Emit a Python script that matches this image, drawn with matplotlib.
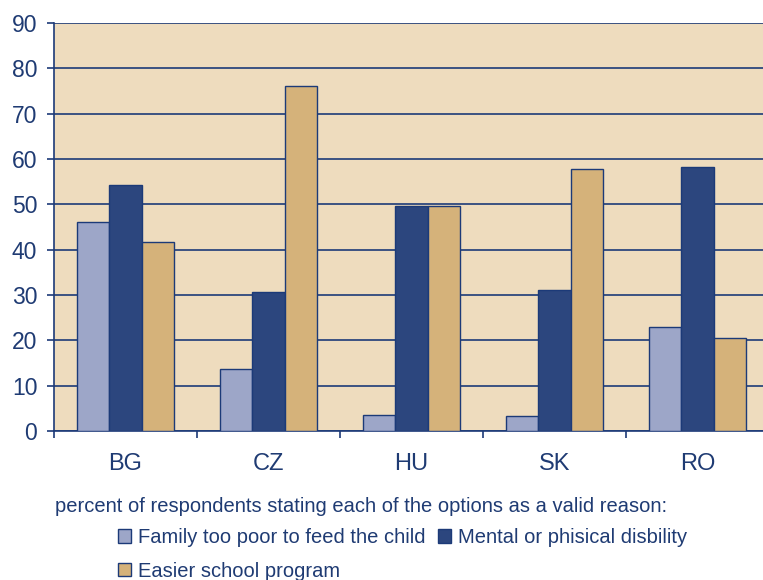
import matplotlib
matplotlib.use("Agg")
import matplotlib.pyplot as plt
import numpy as np

# --- Data ---
countries = ["BG", "CZ", "HU", "SK", "RO"]
too_poor = [46.0, 13.7, 3.6, 3.2, 22.9]
disability = [54.2, 30.7, 49.6, 31.2, 58.3]
easier_school = [41.8, 76.2, 49.6, 57.8, 20.6]
series_names = ["Family too poor to feed the child",
                "Mental or phisical disbility",
                "Easier school program"]
yticks = list(range(0, 91, 10))

# --- Style ---
navy = "#1c3a78"
text_col = "#1f3b73"
colors = ["#9da6c8", "#2c467e", "#d5b27a"]
plt.rcParams["font.family"] = ["Liberation Sans", "DejaVu Sans"]

fig = plt.figure(figsize=(7.63, 5.80), dpi=100)
ax = fig.add_axes([54 / 763, 1 - 431 / 580, 715 / 763, 408 / 580])
ax.set_facecolor("#eedcbe")

x = np.arange(len(countries))
w = 0.227
handles = []
for i, (vals, c, name) in enumerate(zip([too_poor, disability, easier_school], colors, series_names)):
    b = ax.bar(x + (i - 1) * w, vals, width=w, color=c, edgecolor=navy,
               linewidth=1.0, label=name, zorder=3)
    handles.append(b)

ax.set_xlim(-0.5, len(countries) - 0.5)
ax.set_ylim(0, 90)
ax.set_yticks(yticks)
ax.yaxis.grid(True, color=navy, linewidth=1.2, zorder=1)
ax.set_axisbelow(True)

# category boundaries get the tick marks, labels sit in between
ax.set_xticks(np.arange(len(countries) + 1) - 0.5)
ax.set_xticklabels([])
ax.set_xticks(x, countries, minor=True)
ax.tick_params(axis="x", which="minor", length=0, pad=16, labelsize=17, labelcolor=text_col)
ax.tick_params(axis="x", which="major", length=5, width=1.2, color=navy, direction="out")
ax.tick_params(axis="y", length=5, width=1.2, color=navy, pad=7, labelsize=16.5, labelcolor=text_col)

for side in ["top", "right"]:
    ax.spines[side].set_visible(False)
for side in ["left", "bottom"]:
    ax.spines[side].set_color(navy)
    ax.spines[side].set_linewidth(1.2)

fig.text(55 / 763, 1 - 506 / 580,
         "percent of respondents stating each of the options as a valid reason:",
         fontsize=14.5, color=text_col, va="center", ha="left")
# legend fills column by column: poor + easier in the first, disability in the second
order = [0, 2, 1]
fig.legend([handles[k] for k in order], [series_names[k] for k in order],
           loc="upper left", bbox_to_anchor=(110 / 763, 1 - 520 / 580), ncol=2,
           frameon=False, fontsize=14.5, labelcolor=text_col,
           handlelength=0.65, handleheight=0.65, handletextpad=0.35,
           columnspacing=0.6, labelspacing=0.72, borderaxespad=0)

fig.savefig("out.png", dpi=100)
